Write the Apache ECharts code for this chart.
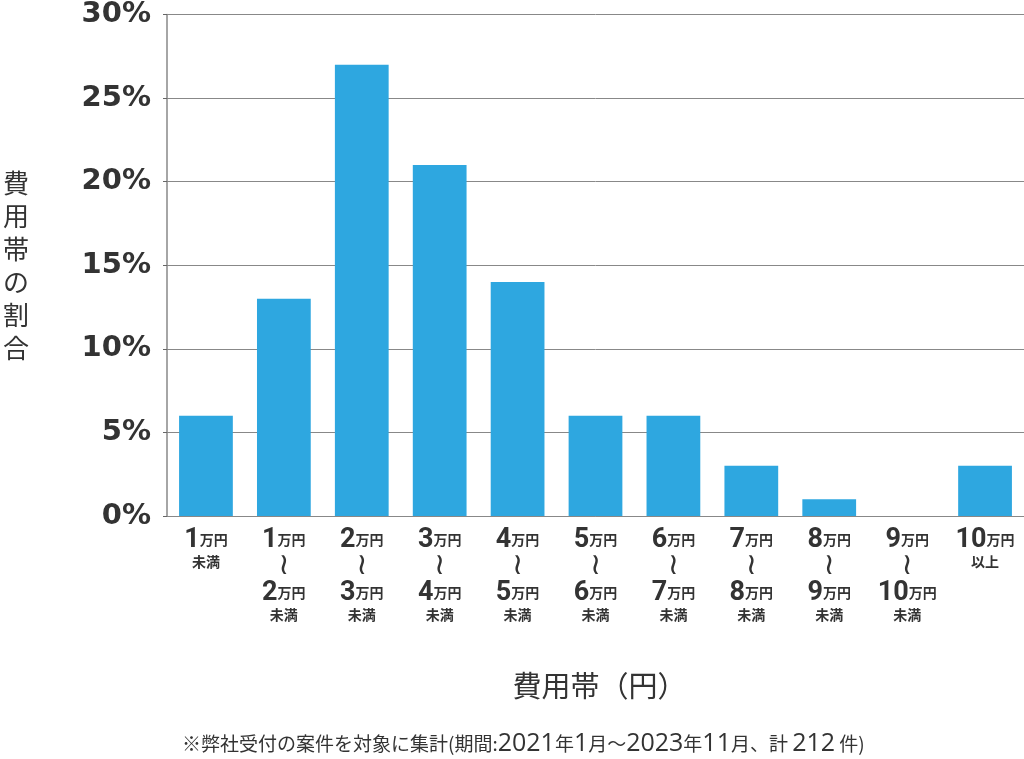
<!DOCTYPE html>
<html><head><meta charset="utf-8">
<script src="https://cdn.jsdelivr.net/npm/echarts@6/dist/echarts.min.js"></script>
<style>html,body{margin:0;padding:0;background:#fff}#c{width:1024px;height:759px}</style>
</head><body><div id="c"></div>
<script>
const categories = ['1万円未満','1万円〜2万円未満','2万円〜3万円未満','3万円〜4万円未満','4万円〜5万円未満','5万円〜6万円未満','6万円〜7万円未満','7万円〜8万円未満','8万円〜9万円未満','9万円〜10万円未満','10万円以上'];
const shares = [6, 13, 27, 21, 14, 6, 6, 3, 1, 0, 3];
const yTicks = { min: 0, max: 30, interval: 5 };
const xAxisTitle = '費用帯（円）';
const yAxisTitle = '費用帯の割合';
const footnote = '※弊社受付の案件を対象に集計(期間:2021年1月〜2023年11月、計 212 件)';

const JP = '"Noto Sans CJK JP", sans-serif';
function amt(s){ return s.replace(/(\d+)万円/, '{n|$1}{u|万円}'); }
function fmt(v){
  if (v.indexOf('〜') >= 0) {
    const p = v.split('〜');
    const b = p[1].replace('未満','');
    return amt(p[0]) + '\n{w|≀}\n' + amt(b) + '\n{s|未満}';
  }
  const m = v.match(/^(\d+万円)(.*)$/);
  return amt(m[1]) + '\n{s|' + m[2] + '}';
}
function footRich(t){
  return t.replace(/[^\d]+/g, function(x){ return '{c|' + x + '}'; }).replace(/\d+/g, function(x){ return '{d|' + x + '}'; });
}

const chart = echarts.init(document.getElementById('c'));
chart.setOption({
  animation: false,
  grid: { left: 166, right: 0, top: 14, bottom: 243, containLabel: false },
  xAxis: {
    type: 'category', data: categories,
    name: xAxisTitle, nameLocation: 'middle', nameGap: 170,
    nameTextStyle: { fontFamily: JP, fontSize: 29, color: '#333', verticalAlign: 'middle', padding: [0, 0, 0, 8] },
    axisLine: { show: true, lineStyle: { color: '#888', width: 1 } },
    axisTick: { show: false },
    axisLabel: {
      interval: 0, margin: 11, formatter: fmt,
      rich: {
        n: { fontFamily: 'Roboto', fontWeight: 'bold', fontSize: 27, color: '#333', lineHeight: 26 },
        u: { fontFamily: JP, fontWeight: 'bold', fontSize: 14, color: '#333', lineHeight: 26 },
        w: { fontFamily: 'DejaVu Sans', fontSize: 30, color: '#333', lineHeight: 27 },
        s: { fontFamily: JP, fontWeight: 'bold', fontSize: 14, color: '#333', lineHeight: 18 }
      }
    }
  },
  yAxis: {
    type: 'value', min: yTicks.min, max: yTicks.max, interval: yTicks.interval,
    name: yAxisTitle.split('').join('\n'), nameLocation: 'middle', nameGap: 151, nameRotate: 0,
    nameTextStyle: { fontFamily: JP, fontSize: 26, color: '#333', lineHeight: 33, align: 'center', verticalAlign: 'middle' },
    axisLine: { show: true, lineStyle: { color: '#888', width: 1.5 } },
    axisTick: { show: true, length: 4, lineStyle: { color: '#666' } },
    splitLine: { show: true, lineStyle: { color: '#888', width: 1 } },
    axisLabel: { margin: 16, formatter: '{value}%', fontFamily: 'DejaVu Sans', fontWeight: 'bold', fontSize: 29, color: '#333' }
  },
  series: [{
    type: 'bar', data: shares, barWidth: '69%',
    itemStyle: { color: '#2EA7E0' }
  }],
  graphic: [{
    type: 'text', left: 182, top: 731,
    style: {
      text: footRich(footnote),
      rich: {
        c: { fontFamily: JP, fontSize: 19, fill: '#333', lineHeight: 26 },
        d: { fontFamily: 'Open Sans', fontSize: 25, fill: '#333', lineHeight: 26 }
      }
    }
  }]
});
</script></body></html>
